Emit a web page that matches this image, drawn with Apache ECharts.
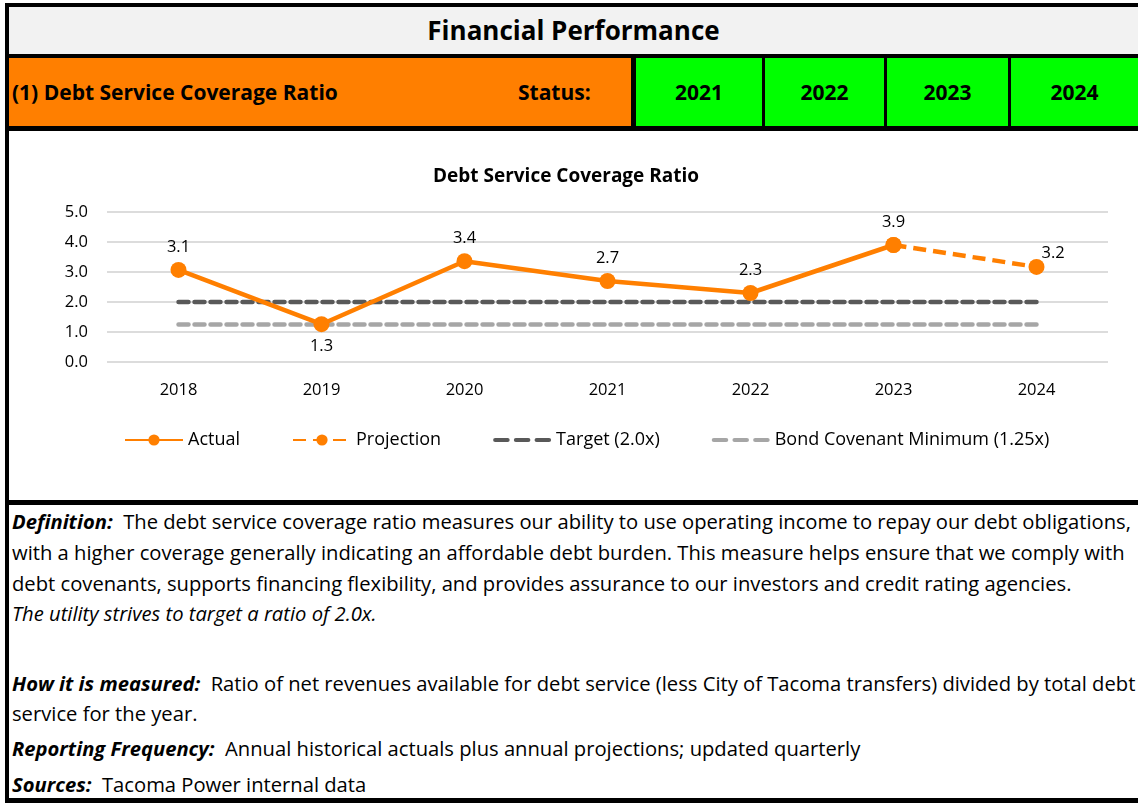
<!DOCTYPE html>
<html>
<head>
<meta charset="utf-8" />
<title>Financial Performance</title>
<script src="https://cdn.jsdelivr.net/npm/echarts@6/dist/echarts.min.js"></script>
<style>
  body { margin:0; width:1138px; height:804px; background:#fff; position:relative; overflow:hidden;
         font-family: "Open Sans", Lato, sans-serif; color:#000; }
  .blk { position:absolute; background:#000; }
  .box { position:absolute; }
  .hdr { font-weight:bold; }
  .line { position:absolute; left:12px; height:30px; line-height:30px; font-size:20.2px; white-space:nowrap; }
  .line b, .line i { font-weight:bold; font-style:italic; }
</style>
</head>
<body>
  <!-- frame -->
  <div class="blk" style="left:5px;top:3px;width:4px;height:800px;"></div>
  <div class="blk" style="left:5px;top:3px;width:1133px;height:4px;"></div>
  <div class="box hdr" style="left:9px;top:7px;width:1129px;height:47px;background:#f2f2f2;font-size:26px;line-height:47px;text-align:center;">Financial Performance</div>
  <div class="blk" style="left:5px;top:54px;width:1133px;height:4px;"></div>

  <!-- status row -->
  <div class="box hdr" style="left:9px;top:58px;width:622px;height:68px;background:#ff7f00;font-size:21px;line-height:68px;">
    <span style="position:absolute;left:3px;">(1) Debt Service Coverage Ratio</span>
    <span style="position:absolute;left:509px;">Status:</span>
  </div>
  <div class="blk" style="left:631px;top:58px;width:5px;height:68px;"></div>
  <div id="status"></div>
  <div class="blk" style="left:5px;top:126px;width:1133px;height:5px;"></div>

  <!-- chart -->
  <div id="chart" style="position:absolute;left:9px;top:131px;width:1129px;height:369px;"></div>
  <div class="blk" style="left:5px;top:500px;width:1133px;height:5px;"></div>

  <!-- notes -->
  <div class="line" style="top:506px;"><b>Definition:</b>&nbsp; The debt service coverage ratio measures our ability to use operating income to repay our debt obligations,</div>
  <div class="line" style="top:537px;">with a higher coverage generally indicating an affordable debt burden. This measure helps ensure that we comply with</div>
  <div class="line" style="top:568px;">debt covenants, supports financing flexibility, and provides assurance to our investors and credit rating agencies.</div>
  <div class="line" style="top:598px;font-style:italic;">The utility strives to target a ratio of 2.0x.</div>
  <div class="line" style="top:668px;"><b>How it is measured:</b>&nbsp; Ratio of net revenues available for debt service (less City of Tacoma transfers) divided by total debt</div>
  <div class="line" style="top:698px;">service for the year.</div>
  <div class="line" style="top:733px;"><b>Reporting Frequency:</b>&nbsp; Annual historical actuals plus annual projections; updated quarterly</div>
  <div class="line" style="top:769px;"><b>Sources:</b>&nbsp; Tacoma Power internal data</div>
  <div class="blk" style="left:5px;top:798px;width:1133px;height:5px;"></div>

<script type="text/javascript">
// status cells
var statusYears = ['2021', '2022', '2023', '2024'];
var cellEdges = [636, 765, 887, 1011, 1138];

var holder = document.getElementById('status');
for (var i = 0; i < statusYears.length; i++) {
    var c = document.createElement('div');
    c.className = 'box hdr';
    c.style.cssText = 'left:' + cellEdges[i] + 'px;top:58px;width:' + (cellEdges[i + 1] - cellEdges[i] - (i < 3 ? 3 : 0)) +
        'px;height:68px;background:#00ff00;font-size:21px;line-height:68px;text-align:center;';
    c.textContent = statusYears[i];
    holder.appendChild(c);
    if (i < 3) {
        var s = document.createElement('div');
        s.className = 'blk';
        s.style.cssText = 'left:' + (cellEdges[i + 1] - 3) + 'px;top:58px;width:3px;height:68px;';
        holder.appendChild(s);
    }
}

// chart data
var years = ['2018', '2019', '2020', '2021', '2022', '2023', '2024'];
var actual = [3.07, 1.26, 3.36, 2.7, 2.3, 3.9, null];
var projection = [null, null, null, null, null, 3.9, 3.17];
var target = [2.0, 2.0, 2.0, 2.0, 2.0, 2.0, 2.0];
var covenantMin = [1.25, 1.25, 1.25, 1.25, 1.25, 1.25, 1.25];
// where the value label sits for each actual point
var actualLabelPos = ['top', 'bottom', 'top', 'top', 'top', 'top', 'top'];

var ORANGE = '#ff7f00';
var FONT = '"Open Sans", Lato, sans-serif';
// three short dashes, used as legend icon for the flat reference lines
var DASH_ICON = 'path://M2,0h12a2,2 0 0 1 0,4h-12a2,2 0 0 1 0,-4z M22,0h12a2,2 0 0 1 0,4h-12a2,2 0 0 1 0,-4z M42,0h12a2,2 0 0 1 0,4h-12a2,2 0 0 1 0,-4z';

var myChart = echarts.init(document.getElementById('chart'));
var option = {
    animation: false,
    textStyle: { fontFamily: FONT },
    title: {
        text: 'Debt Service Coverage Ratio',
        left: 419,
        top: 31,
        textStyle: { fontSize: 19, fontWeight: 'bold', color: '#000', fontFamily: FONT }
    },
    legend: {
        top: 295,
        left: 110,
        itemWidth: 58,
        itemHeight: 14,
        itemGap: 52,
        textStyle: { fontSize: 18, color: '#000', fontFamily: FONT },
        data: [
            'Actual',
            'Projection',
            { name: 'Target (2.0x)', icon: DASH_ICON },
            { name: 'Bond Covenant Minimum (1.25x)', icon: DASH_ICON }
        ]
    },
    grid: { left: 98, right: 30, top: 81, bottom: 138 },
    xAxis: {
        type: 'category',
        data: years,
        boundaryGap: true,
        axisLine: { show: false },
        axisTick: { show: false },
        axisLabel: { fontSize: 16.5, color: '#000', margin: 20, fontFamily: FONT }
    },
    yAxis: {
        type: 'value',
        min: 0,
        max: 5,
        interval: 1,
        axisLabel: { fontSize: 16.5, color: '#000', margin: 19, fontFamily: FONT,
            formatter: function (v) { return v.toFixed(1); } },
        splitLine: { lineStyle: { color: '#d0d0d0', width: 1.5 } }
    },
    series: [
        {
            name: 'Target (2.0x)',
            type: 'line',
            data: target,
            symbol: 'none',
            lineStyle: { color: '#595959', width: 4.5, type: [10, 6], cap: 'round' },
            itemStyle: { color: '#595959' },
            z: 2
        },
        {
            name: 'Bond Covenant Minimum (1.25x)',
            type: 'line',
            data: covenantMin,
            symbol: 'none',
            lineStyle: { color: '#a6a6a6', width: 4.5, type: [10, 6], cap: 'round' },
            itemStyle: { color: '#a6a6a6' },
            z: 2
        },
        {
            name: 'Projection',
            type: 'line',
            data: projection.map(function (v, i) {
                return { value: v, label: { show: i === projection.length - 1 } };
            }),
            symbol: 'circle',
            symbolSize: 16,
            lineStyle: { color: ORANGE, width: 4.5, type: [13, 7] },
            itemStyle: { color: ORANGE },
            label: {
                position: [13, -14],
                fontSize: 16.5, color: '#000', fontFamily: FONT,
                formatter: function (p) { return p.value.toFixed(1); }
            },
            z: 3
        },
        {
            name: 'Actual',
            type: 'line',
            data: actual.map(function (v, i) {
                return { value: v, label: { position: actualLabelPos[i] } };
            }),
            symbol: 'circle',
            symbolSize: 16,
            lineStyle: { color: ORANGE, width: 4.5 },
            itemStyle: { color: ORANGE },
            label: {
                show: true,
                distance: 6,
                fontSize: 16.5, color: '#000', fontFamily: FONT,
                formatter: function (p) { return p.value.toFixed(1); }
            },
            z: 4
        }
    ]
};
myChart.setOption(option);
</script>
</body>
</html>
